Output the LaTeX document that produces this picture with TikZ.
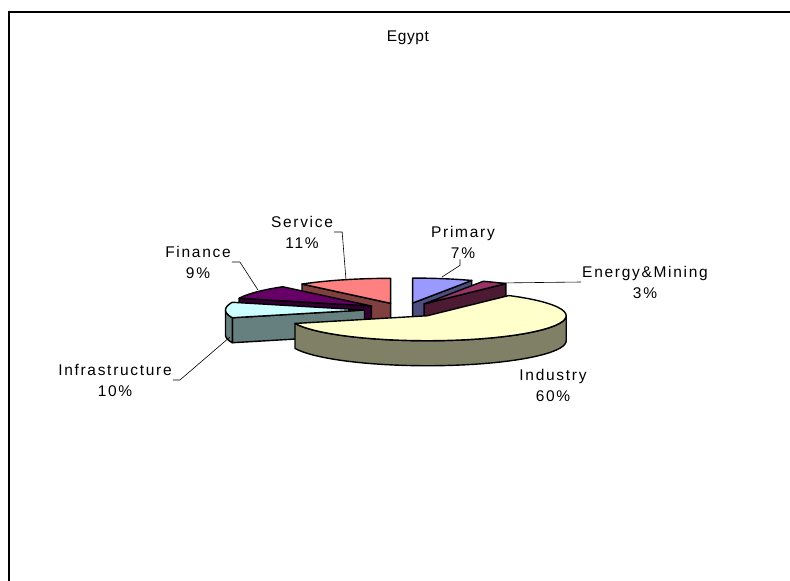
\documentclass[tikz,border=0pt]{standalone}
\usepackage{fontspec}
\setmainfont{Liberation Sans}
\usetikzlibrary{positioning}

\definecolor{primtop}{HTML}{9999FF}
\definecolor{primside}{HTML}{4D4D80}
\definecolor{enertop}{HTML}{993366}
\definecolor{enerside}{HTML}{4D1A33}
\definecolor{indtop}{HTML}{FFFFCC}
\definecolor{indside}{HTML}{808066}
\definecolor{infratop}{HTML}{CCFFFF}
\definecolor{infraside}{HTML}{668080}
\definecolor{fintop}{HTML}{660066}
\definecolor{finside}{HTML}{330033}
\definecolor{servtop}{HTML}{FF8080}
\definecolor{servside}{HTML}{804040}

% pie geometry, in px of the chart
\def\pcx{404}\def\pcy{310}\def\prx{139}\def\pry{25}\def\pdep{25}\def\pexp{0.284}

\newcommand{\sliceapex}[2]{%
  \pgfmathsetmacro{\ax}{\pcx+\pexp*\prx*sin((#1+#2)/2)}%
  \pgfmathsetmacro{\ay}{\pcy-\pexp*\pry*cos((#1+#2)/2)}}
\newcommand{\radface}[2]{%
  \filldraw[slice, fill=#2] (\ax,\ay) -- ({\ax+\prx*sin(#1)},{\ay-\pry*cos(#1)}) -- ++(0,\pdep) -- (\ax,{\ay+\pdep}) -- cycle;}
\newcommand{\outwall}[3]{%
  \filldraw[slice, fill=#3] plot[variable=\t, domain=#1:#2, samples=40] ({\ax+\prx*sin(\t)},{\ay-\pry*cos(\t)})
    -- plot[variable=\t, domain=#2:#1, samples=40] ({\ax+\prx*sin(\t)},{\ay-\pry*cos(\t)+\pdep}) -- cycle;}
\newcommand{\slicetop}[3]{%
  \filldraw[slice, fill=#3] (\ax,\ay) -- plot[variable=\t, domain=#1:#2, samples=40] ({\ax+\prx*sin(\t)},{\ay-\pry*cos(\t)}) -- cycle;}

\begin{document}
\begin{tikzpicture}[
  x=1pt, y=-1pt,
  slice/.style={draw=black, line width=1.4pt, line join=round},
  lbl/.style={align=center, inner sep=1pt, font={\fontsize{15.5}{21}\selectfont\addfontfeatures{LetterSpace=11}}},
  leader/.style={draw=black, line width=0.6pt}
]
  \useasboundingbox (0,0) rectangle (790,581);
  \draw[line width=1.2pt] (9,600) -- (9,12) -- (800,12);

  \node[font={\fontsize{15.5}{16}\selectfont\addfontfeatures{LetterSpace=4}}] (title) at (408,38) {Egypt};

  % back slices first
  \sliceapex{320.4}{360}
  \radface{320.4}{servside}
  \slicetop{320.4}{360}{servtop}

  \sliceapex{0}{25.2}
  \radface{25.2}{primside}
  \slicetop{0}{25.2}{primtop}

  \sliceapex{25.2}{36}
  \radface{36}{enerside}
  \slicetop{25.2}{36}{enertop}

  \sliceapex{288}{320.4}
  \radface{288}{finside}
  \slicetop{288}{320.4}{fintop}

  \sliceapex{252}{288}
  \radface{252}{infraside}
  \outwall{252}{270}{infraside}
  \slicetop{252}{288}{infratop}

  \sliceapex{36}{252}
  \outwall{90}{252}{indside}
  \slicetop{36}{252}{indtop}

  % labels
  \node[lbl] (servlbl) at (302,232) {Service\\11\%};
  \node[lbl] (finlbl) at (198,262) {Finance\\9\%};
  \node[lbl] (infralbl) at (115,380) {Infrastructure\\10\%};
  \node[lbl] (primlbl) at (463,242) {Primary\\7\%};
  \node[lbl] (enerlbl) at (645,282) {Energy\&Mining\\3\%};
  \node[lbl] (indlbl) at (553,385) {Industry\\60\%};

  \coordinate (servtip) at (346,280);
  \coordinate (fintip) at (258,290);
  \coordinate (infratip) at (230,337);
  \coordinate (primtip) at (442,277);
  \coordinate (enertip) at (497,283);

  \draw[leader] (servlbl.east) -- ++(8,0) -- (servtip);
  \draw[leader] (finlbl.east) -- ++(8,0) -- (fintip);
  \draw[leader] (infralbl.east) -- ++(7,0) -- (infratip);
  \draw[leader] ([xshift=-3pt]primlbl.south) -- ++(0,6) -- (primtip);
  \draw[leader] (enerlbl.west) -- (enertip);
\end{tikzpicture}
\end{document}
